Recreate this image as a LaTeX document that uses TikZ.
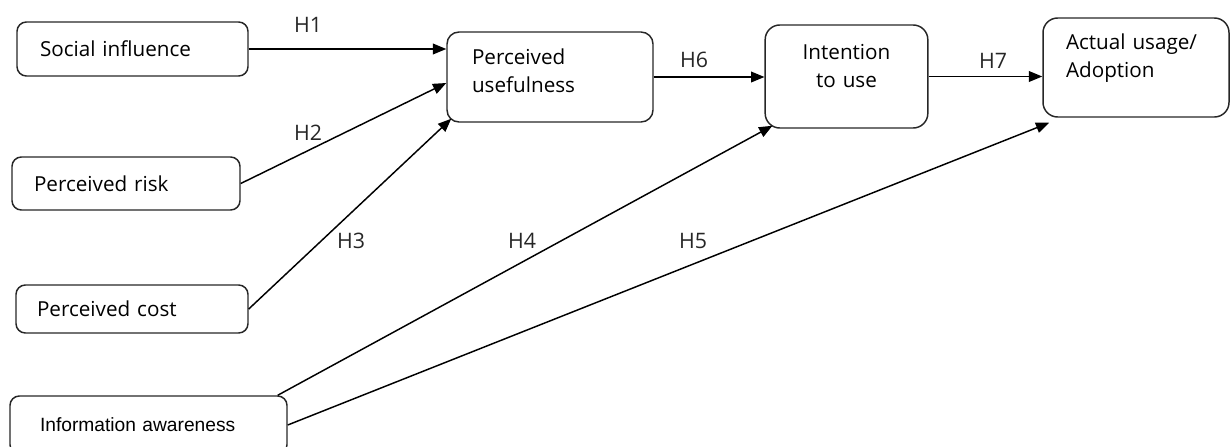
\documentclass[tikz,border=0pt]{standalone}
\usepackage{fontspec}
\setmainfont{Open Sans}
\newfontfamily\arialfont{Liberation Sans}
\usetikzlibrary{arrows.meta}
\tikzset{
    construct/.style={draw=black!85, line width=1.1pt, rounded corners=7pt, align=left,
        inner ysep=0pt, font=\fontsize{15.5}{21}\selectfont},
    outcome/.style={construct, rounded corners=11pt},
    hypo/.style={-{Triangle[length=10pt, width=8pt]}, line width=1.1pt},
    hlabel/.style={font=\fontsize{16}{16}\selectfont, text=black!85, inner sep=0pt}
}

\begin{document}
\begin{tikzpicture}[x=0.75pt, y=-0.75pt]
    \useasboundingbox (0,0) rectangle (1230,446);
    % antecedents
    \node[construct, minimum height=40.5pt, text width=138.75pt, inner xsep=17.25pt] (social) at (132.5,49) {Social influence};
    \node[construct, minimum height=39.75pt, text width=138pt, inner xsep=16.5pt] (risk) at (126,183.5) {Perceived risk};
    \node[construct, minimum height=36pt, text width=142.5pt, inner xsep=15.75pt] (cost) at (132,309) {Perceived cost};
    \node[construct, minimum height=43.5pt, text width=162.75pt, inner xsep=22.5pt,
        font=\arialfont\fontsize{14.4}{18}\selectfont] (info) at (148.5,425) {Information awareness};
    % outcomes
    \node[outcome, rounded corners=9pt, minimum height=67.5pt, text width=117pt, inner xsep=18.75pt, text depth=30pt] (pu) at (550,77) {Perceived\\usefulness};
    \node[outcome, align=center, minimum height=77.25pt, text width=98pt, inner xsep=12pt, text depth=37pt] (intent) at (846.5,76.5) {Intention\\to use};
    \node[outcome, minimum height=74.25pt, text width=105pt, inner xsep=17.25pt, text depth=39pt] (actual) at (1136,67.5) {Actual usage/\\Adoption};
    % hypotheses
    \draw[hypo] (social.east) -- (social.east -| pu.west);
    \draw[hypo] (risk.east) -- ([yshift=-4.5pt]pu.west);
    \draw[hypo] (cost.east) -- ([xshift=3.75pt, yshift=3pt]pu.south west);
    \draw[hypo] ([xshift=-7.5pt]info.north east) -- ([xshift=6pt, yshift=2.25pt]intent.south west);
    \draw[hypo] (info.east) -- ([xshift=5.25pt, yshift=-3.75pt]actual.south west);
    \draw[hypo] (pu.east) -- (pu.east -| intent.west);
    \draw[hypo] (intent.east) -- (intent.east -| actual.west);
    \node[hlabel] (h1) at (308,25) {H1};
    \node[hlabel] (h2) at (308,133) {H2};
    \node[hlabel] (h3) at (351,241) {H3};
    \node[hlabel] (h4) at (522,241) {H4};
    \node[hlabel] (h5) at (693,241) {H5};
    \node[hlabel] (h6) at (694,60) {H6};
    \node[hlabel] (h7) at (993,61) {H7};
\end{tikzpicture}
\end{document}
